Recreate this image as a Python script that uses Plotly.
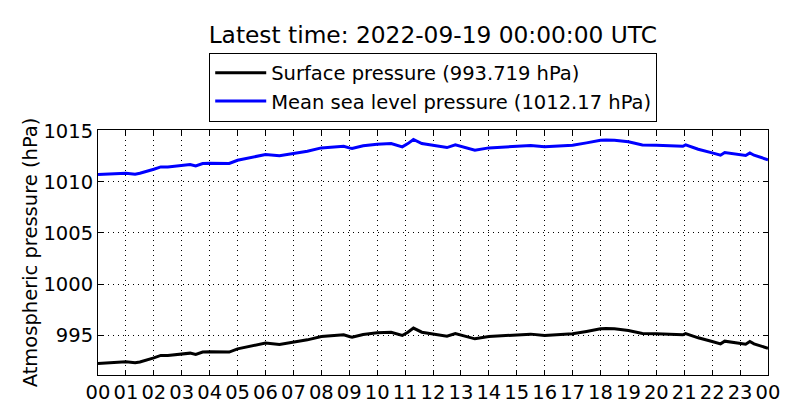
import plotly.graph_objects as go

# Time in hours since 2022-09-18 00:00 UTC
hours = [0, 0.5, 1, 1.33, 1.5, 2, 2.25, 2.5, 3, 3.3, 3.5, 3.75, 4, 4.5, 4.7, 5, 5.5, 6,
         6.5, 7, 7.5, 8, 8.5, 8.8, 9, 9.1, 9.5, 10, 10.5, 10.75, 10.9, 11.1, 11.3, 11.6,
         12, 12.25, 12.5, 12.8, 13, 13.5, 14, 14.5, 15, 15.5, 16, 16.5, 17, 17.5, 18,
         18.2, 18.5, 19, 19.5, 20, 20.5, 20.95, 21.05, 21.5, 22, 22.3, 22.45, 23, 23.2,
         23.35, 23.5, 24]

msl = [1010.72, 1010.79, 1010.85, 1010.75, 1010.85, 1011.24, 1011.47, 1011.47, 1011.63,
       1011.70, 1011.57, 1011.80, 1011.83, 1011.86, 1011.80, 1012.12, 1012.38, 1012.68,
       1012.55, 1012.78, 1013.00, 1013.33, 1013.43, 1013.49, 1013.33, 1013.27, 1013.53,
       1013.69, 1013.75, 1013.59, 1013.43, 1013.75, 1014.15, 1013.75, 1013.59, 1013.53,
       1013.36, 1013.62, 1013.49, 1013.10, 1013.33, 1013.43, 1013.49, 1013.56, 1013.43,
       1013.49, 1013.59, 1013.82, 1014.08, 1014.10, 1014.08, 1013.92, 1013.62, 1013.59,
       1013.56, 1013.49, 1013.62, 1013.20, 1012.84, 1012.61, 1012.87, 1012.71, 1012.58,
       1012.84, 1012.61, 1012.17]

surface = [992.23, 992.32, 992.39, 992.30, 992.38, 992.78, 993.02, 993.01, 993.18,
           993.24, 993.11, 993.34, 993.37, 993.40, 993.34, 993.66, 993.92, 994.22,
           994.09, 994.32, 994.54, 994.87, 994.97, 995.03, 994.87, 994.81, 995.07,
           995.23, 995.29, 995.13, 994.97, 995.29, 995.69, 995.29, 995.13, 995.07,
           994.90, 995.16, 995.03, 994.64, 994.87, 994.97, 995.03, 995.10, 994.97,
           995.03, 995.13, 995.36, 995.62, 995.64, 995.62, 995.46, 995.16, 995.13,
           995.10, 995.03, 995.16, 994.74, 994.38, 994.15, 994.41, 994.25, 994.12,
           994.38, 994.15, 993.719]

tick_hours = list(range(0, 25))
tick_labels = [f"{h % 24:02d}" for h in tick_hours]
y_ticks = [995, 1000, 1005, 1010, 1015]

FONT = "DejaVu Sans"

fig = go.Figure()
fig.add_trace(go.Scatter(x=hours, y=surface, mode="lines",
                         name="Surface pressure (993.719 hPa)",
                         line=dict(color="black", width=3)))
fig.add_trace(go.Scatter(x=hours, y=msl, mode="lines",
                         name="Mean sea level pressure (1012.17 hPa)",
                         line=dict(color="blue", width=3)))

axis_common = dict(showline=True, linecolor="black", linewidth=1, mirror="ticks",
                   ticks="inside", ticklen=5, tickcolor="black",
                   showgrid=True, gridcolor="black", griddash="1px,4px", gridwidth=1,
                   zeroline=False, automargin=False,
                   tickfont=dict(family=FONT, size=19.5, color="black"))

fig.update_layout(
    width=800, height=420,
    paper_bgcolor="white", plot_bgcolor="white",
    margin=dict(l=98, r=32, t=130, b=45),
    font=dict(family=FONT, color="black"),
    title=dict(text="Latest time: 2022-09-19 00:00:00 UTC",
               font=dict(family=FONT, size=23.3, color="black"),
               x=0.541, xanchor="center", y=1 - 35 / 420, yanchor="middle"),
    legend=dict(x=0.166, y=1.316, xanchor="left", yanchor="top",
                bordercolor="black", borderwidth=1, bgcolor="white",
                font=dict(family=FONT, size=19.5, color="black"),
                itemwidth=51, tracegroupgap=0),
    xaxis=dict(range=[0, 24], tickmode="array", tickvals=tick_hours,
               ticktext=tick_labels, **axis_common),
    yaxis=dict(range=[991.1, 1015.08], tickmode="array", tickvals=y_ticks,
               title=dict(text="Atmospheric pressure (hPa)",
                          font=dict(family=FONT, size=19.5, color="black"),
                          standoff=0),
               **axis_common),
)

fig.write_html("out.html", config={"displayModeBar": False},
               post_script="document.body.style.margin='0';")
